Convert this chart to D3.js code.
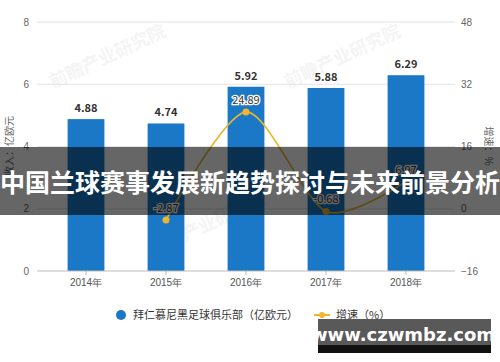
<!DOCTYPE html>
<html>
<head>
<meta charset="utf-8">
<script src="https://cdn.jsdelivr.net/npm/d3@7/dist/d3.min.js"></script>
<style>
  body { margin: 0; background: #fff; }
  svg { display: block; font-family: "Noto Sans CJK SC", "Noto Sans", sans-serif; }
</style>
</head>
<body>
<div id="chart"></div>
<script>
let years = ['2014年', '2015年', '2016年', '2017年', '2018年'];
let revenue = [4.88, 4.74, 5.92, 5.88, 6.29];
let growth = [null, -2.87, 24.89, -0.68, 6.97];
let leftTicks = [0, 2, 4, 6, 8];
let rightTicks = [-16, 0, 16, 32, 48];

let width = 500, height = 362;
let plotLeft = 37, plotRight = 455, plotTop = 22, plotBottom = 271;

let svg = d3.select('#chart').append('svg')
        .attr('width', width)
        .attr('height', height);

let xScale = d3.scaleBand()
        .domain(years)
        .range([46, 446])
        .paddingInner(0.54)
        .paddingOuter(0.27);

let yLeft = d3.scaleLinear().domain([0, 8]).range([plotBottom, plotTop]);
let yRight = d3.scaleLinear().domain([-16, 48]).range([plotBottom, plotTop]);

// faint watermarks
[[110, 62], [345, 62], [210, 230]].forEach(function(p) {
  svg.append('text')
    .attr('transform', 'translate(' + p[0] + ',' + p[1] + ') rotate(-25)')
    .attr('text-anchor', 'middle')
    .style('font-size', '18px')
    .style('font-weight', 'bold')
    .style('fill', '#000')
    .style('opacity', 0.04)
    .text('前瞻产业研究院');
});

// grid
svg.append('g').selectAll('line')
  .data(leftTicks.slice(1))
  .enter().append('line')
  .attr('x1', plotLeft).attr('x2', plotRight)
  .attr('y1', function(d) { return yLeft(d); })
  .attr('y2', function(d) { return yLeft(d); })
  .style('stroke', '#e4e4e4');

// left axis
let yAxisL = d3.axisLeft(yLeft).tickValues(leftTicks).tickSize(0).tickPadding(5);
let gl = svg.append('g').attr('transform', 'translate(' + plotLeft + ',0)').call(yAxisL);
gl.select('.domain').remove();
gl.selectAll('text').style('fill', '#666').style('font-size', '10px').attr('dx', '-0.3em');

// right axis
let yAxisR = d3.axisRight(yRight).tickValues(rightTicks).tickSize(0).tickPadding(6);
let gr = svg.append('g').attr('transform', 'translate(' + plotRight + ',0)').call(yAxisR);
gr.select('.domain').remove();
gr.selectAll('text').style('fill', '#666').style('font-size', '10px');

// axis titles
svg.append('text')
  .attr('transform', 'translate(13,146) rotate(-90)')
  .attr('text-anchor', 'middle')
  .style('font-size', '10px')
  .style('fill', '#666')
  .text('收入：亿欧元');

svg.append('text')
  .attr('transform', 'translate(485,146) rotate(90)')
  .attr('text-anchor', 'middle')
  .style('font-size', '10px')
  .style('fill', '#666')
  .text('增速：%');

// bars
svg.append('g').selectAll('rect')
  .data(revenue)
  .enter().append('rect')
  .attr('x', function(d, i) { return xScale(years[i]); })
  .attr('y', function(d) { return yLeft(d); })
  .attr('width', xScale.bandwidth())
  .attr('height', function(d) { return plotBottom - yLeft(d); })
  .style('fill', '#1b78c6');

svg.append('g').selectAll('text')
  .data(revenue)
  .enter().append('text')
  .attr('x', function(d, i) { return xScale(years[i]) + xScale.bandwidth() / 2; })
  .attr('y', function(d) { return yLeft(d) - 7; })
  .attr('text-anchor', 'middle')
  .style('font-size', '11px')
  .style('font-weight', 'bold')
  .style('fill', '#333')
  .text(function(d) { return d.toFixed(2); });

// x axis
let xAxis = d3.axisBottom(xScale).tickSize(4).tickPadding(4);
let gx = svg.append('g').attr('transform', 'translate(0,' + plotBottom + ')').call(xAxis);
gx.select('.domain').attr('d', 'M' + plotLeft + ',0H' + plotRight).style('stroke', '#bbb');
gx.selectAll('.tick line').style('stroke', '#bbb');
gx.selectAll('text').style('fill', '#555').style('font-size', '10px');

// growth line
let pts = growth.map(function(d, i) { return {x: years[i], v: d}; }).filter(function(d) { return d.v !== null; });
let cx = function(d) { return xScale(d.x) + xScale.bandwidth() / 2; };

let line = d3.line()
  .x(cx)
  .y(function(d) { return yRight(d.v); })
  .curve(d3.curveCardinal.tension(0.2));

svg.append('path')
  .datum(pts)
  .attr('d', line)
  .style('fill', 'none')
  .style('stroke', '#e8b62e')
  .style('stroke-width', 1.6);

svg.append('g').selectAll('circle')
  .data(pts)
  .enter().append('circle')
  .attr('cx', cx)
  .attr('cy', function(d) { return yRight(d.v); })
  .attr('r', 3.5)
  .style('fill', '#f0b52a');

svg.append('g').selectAll('text')
  .data(pts)
  .enter().append('text')
  .attr('x', cx)
  .attr('y', function(d) { return yRight(d.v) - 8; })
  .attr('text-anchor', 'middle')
  .style('font-size', '11px')
  .style('fill', '#333')
  .style('stroke', '#fff')
  .style('stroke-width', 2.5)
  .style('paint-order', 'stroke')
  .text(function(d) { return d.v.toFixed(2); });

// legend
let lg = svg.append('g').attr('transform', 'translate(0,315)');
lg.append('circle').attr('cx', 121).attr('cy', 0).attr('r', 5).style('fill', '#1b78c6');
lg.append('text').attr('x', 133).attr('y', 4).style('font-size', '11px').style('fill', '#333')
  .text('拜仁慕尼黑足球俱乐部（亿欧元）');
lg.append('line').attr('x1', 314).attr('x2', 330).attr('y1', 0).attr('y2', 0)
  .style('stroke', '#f0b52a').style('stroke-width', 2);
lg.append('circle').attr('cx', 322).attr('cy', 0).attr('r', 3).style('fill', '#f0b52a');
lg.append('text').attr('x', 336).attr('y', 4).style('font-size', '11px').style('fill', '#333')
  .text('增速（%）');

// title banner
svg.append('rect')
  .attr('x', 0).attr('y', 147)
  .attr('width', width).attr('height', 68)
  .style('fill', '#000').style('opacity', 0.6);

svg.append('text')
  .attr('x', 250).attr('y', 192)
  .attr('text-anchor', 'middle')
  .style('font-size', '25px')
  .style('font-weight', 'bold')
  .style('fill', '#fff')
  .text('中国兰球赛事发展新趋势探讨与未来前景分析');

// site stamp
svg.append('rect').attr('x', 318).attr('y', 319).attr('width', 173).attr('height', 34).style('fill', '#595959');
svg.append('rect').attr('x', 318).attr('y', 345).attr('width', 173).attr('height', 8).style('fill', '#111');
svg.append('text')
  .attr('x', 403).attr('y', 341)
  .attr('text-anchor', 'middle')
  .style('font-family', '"DejaVu Sans", sans-serif')
  .style('font-size', '18px')
  .style('font-weight', 'bold')
  .style('fill', '#fff')
  .text('www.czwmbz.com');
</script>
</body>
</html>
